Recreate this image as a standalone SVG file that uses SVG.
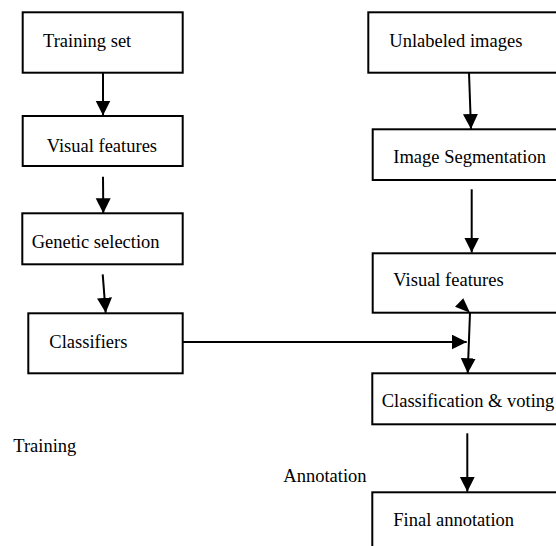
<svg xmlns="http://www.w3.org/2000/svg" width="556" height="546" viewBox="0 0 556 546">
<style>
.box{fill:#fff;stroke:#000;stroke-width:2}
.lbl{font-family:"Liberation Serif","Times New Roman",serif;font-size:18.5px;fill:#000}
.con{stroke:#000;stroke-width:2;fill:none}
</style>
<defs>
<marker id="ah" markerUnits="userSpaceOnUse" markerWidth="16" markerHeight="16" refX="15" refY="7.5" orient="auto" viewBox="0 0 16 16">
<path d="M0,0 L15,7.5 L0,15 z" fill="#000"/>
</marker>
</defs>
<rect width="556" height="546" fill="#fff"/>
<g id="training-set"><rect class="box" x="22.7" y="12.3" width="160" height="60.4"/><text class="lbl" x="43" y="46.7">Training set</text></g>
<g id="visual-features-train"><rect class="box" x="22.7" y="116" width="160" height="50"/><text class="lbl" x="46.7" y="151.7">Visual features</text></g>
<g id="genetic-selection"><rect class="box" x="22.3" y="213.3" width="160.4" height="51"/><text class="lbl" x="31.7" y="248.3">Genetic selection</text></g>
<g id="classifiers"><rect class="box" x="28.3" y="313.3" width="154.4" height="60"/><text class="lbl" x="49.3" y="347.7">Classifiers</text></g>
<g id="unlabeled-images"><rect class="box" x="368.3" y="12.3" width="200" height="60.4"/><text class="lbl" x="389.3" y="46.7">Unlabeled images</text></g>
<g id="image-segmentation"><rect class="box" x="372.7" y="129.3" width="200" height="50.7"/><text class="lbl" x="393.3" y="163.3">Image Segmentation</text></g>
<g id="visual-features-test"><rect class="box" x="372.7" y="253.3" width="200" height="59.4"/><text class="lbl" x="393.3" y="286">Visual features</text></g>
<g id="classification-voting"><rect class="box" x="372.3" y="373.3" width="200" height="51"/><text class="lbl" x="381.7" y="407.3">Classification &amp; voting</text></g>
<g id="final-annotation"><rect class="box" x="372.3" y="492.3" width="200" height="80"/><text class="lbl" x="393.3" y="525.7">Final annotation</text></g>
<g id="training-label"><text class="lbl" x="13.3" y="451.7">Training</text></g>
<g id="annotation-label"><text class="lbl" x="283.3" y="481.7">Annotation</text></g>
<g id="connectors">
<line class="con" x1="103" y1="72.7" x2="103" y2="115.5" marker-end="url(#ah)"/>
<line class="con" x1="103" y1="176.7" x2="103.3" y2="213.3" marker-end="url(#ah)"/>
<line class="con" x1="102.7" y1="274.3" x2="105.7" y2="312.8" marker-end="url(#ah)"/>
<line class="con" x1="182.7" y1="342" x2="466.7" y2="342" marker-end="url(#ah)"/>
<line class="con" x1="469" y1="72.7" x2="471" y2="129" marker-end="url(#ah)"/>
<line class="con" x1="471.7" y1="189.3" x2="471.7" y2="252.5" marker-end="url(#ah)"/>
<line class="con" x1="470" y1="313" x2="467.7" y2="373.3" marker-end="url(#ah)"/>
<polygon points="463.3,298.3 455,306.7 470,312.7" fill="#000"/>
<line class="con" x1="467.3" y1="433.3" x2="467.3" y2="491.8" marker-end="url(#ah)"/>
</g>
</svg>
